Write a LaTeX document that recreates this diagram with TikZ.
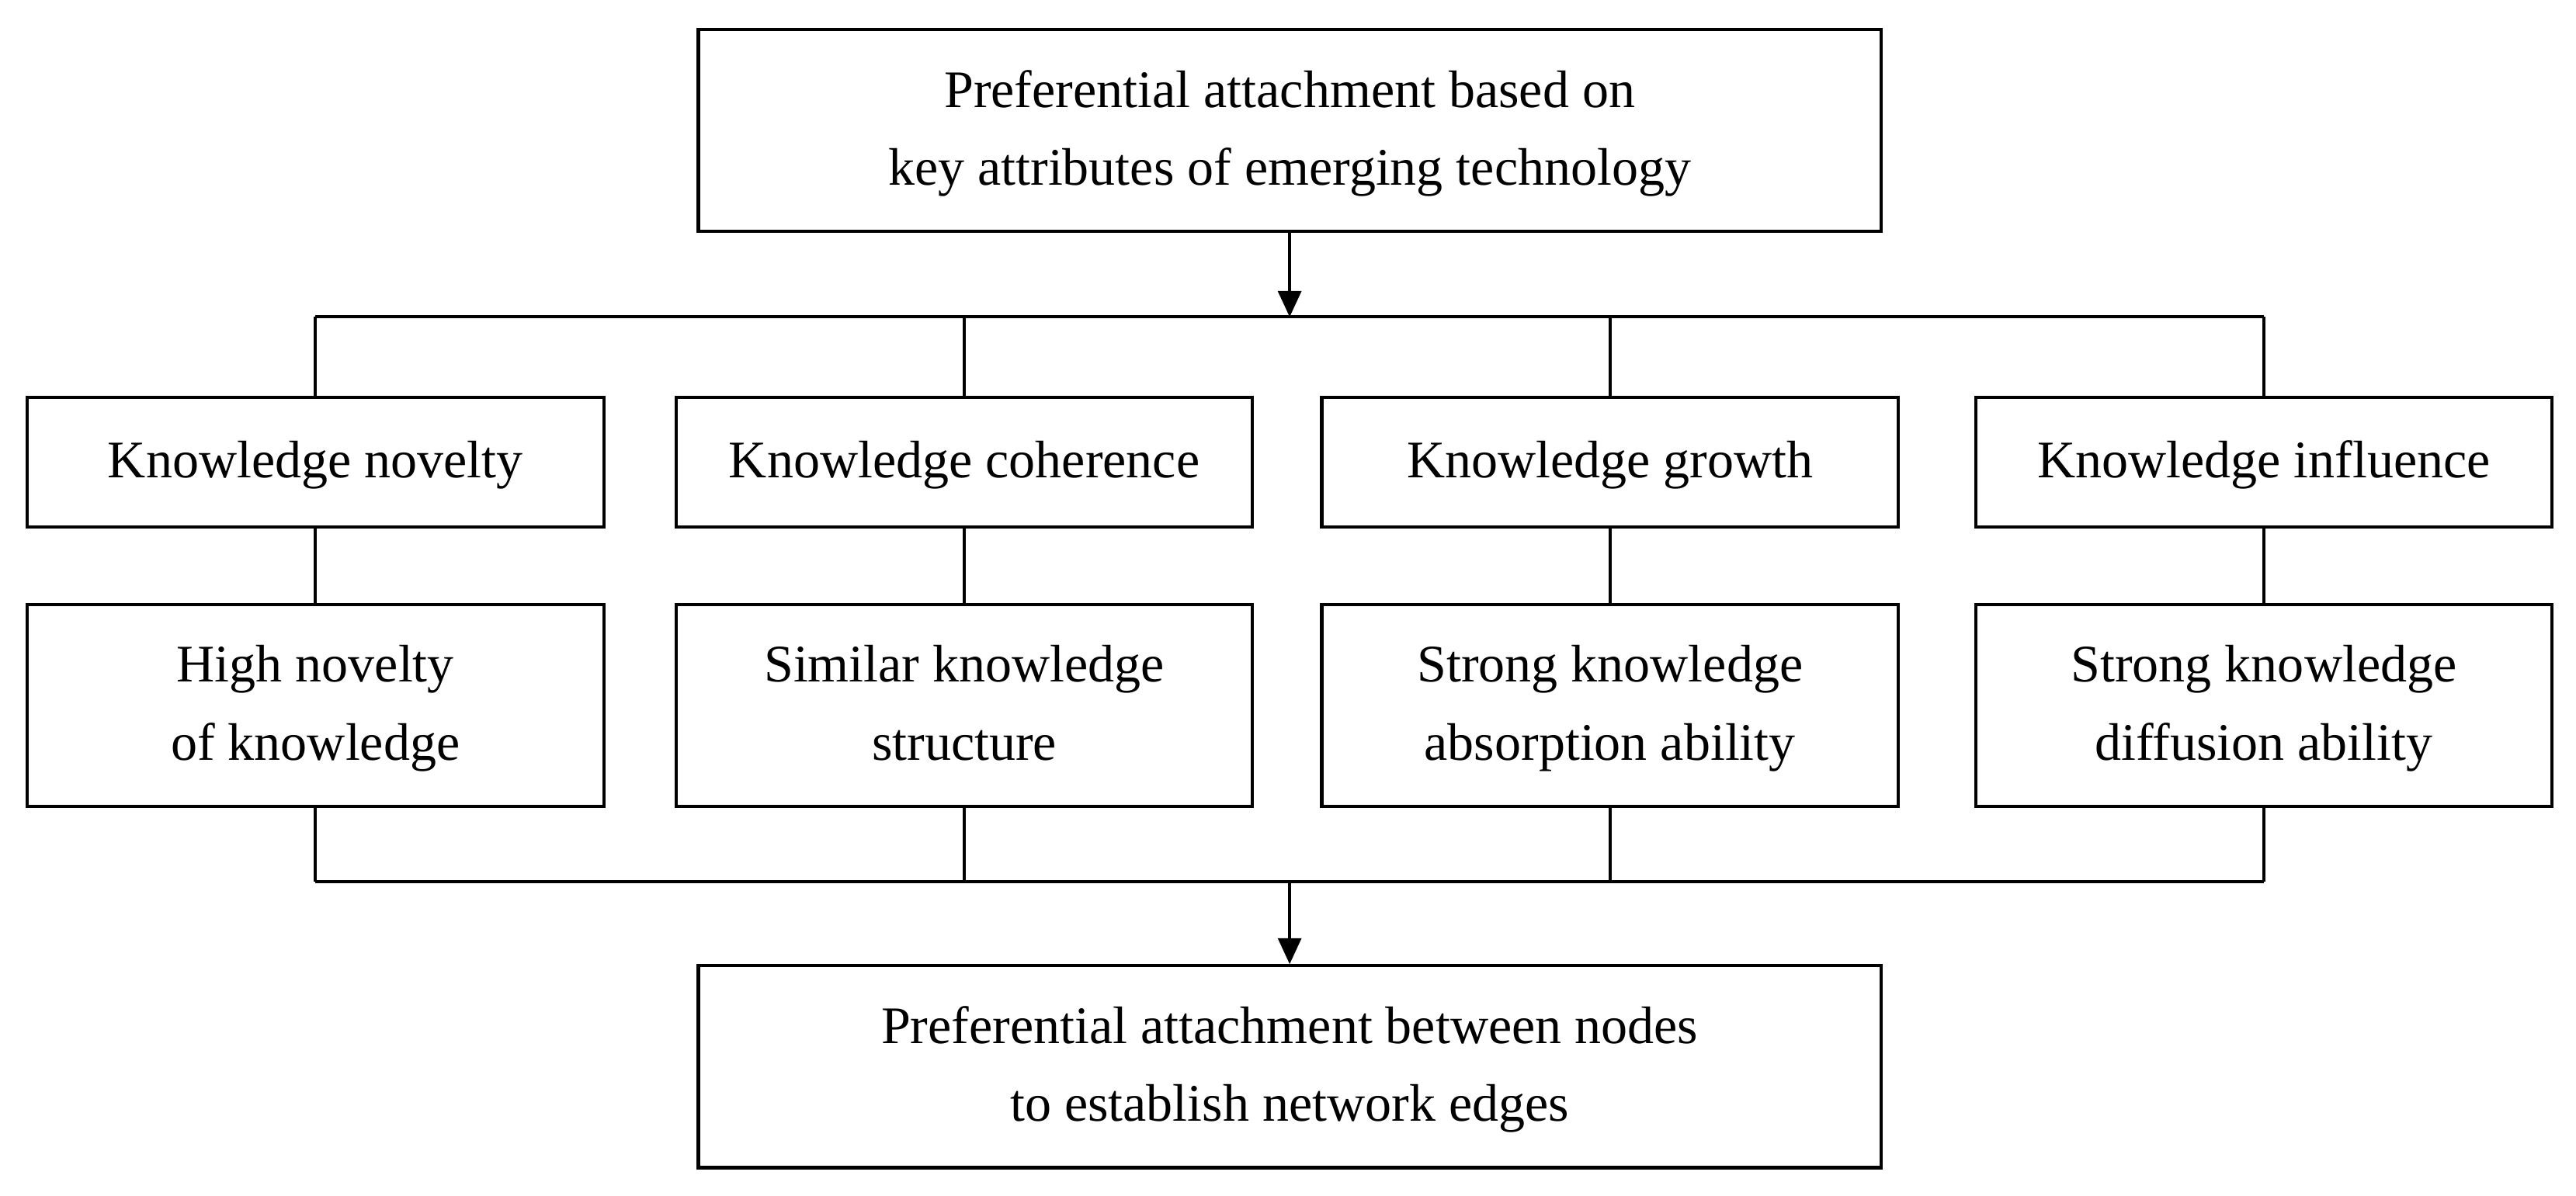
\documentclass[tikz,border=0pt]{standalone}
\usepackage{fontspec}
\setmainfont{Liberation Serif}
\usetikzlibrary{arrows.meta}
\begin{document}
\begin{tikzpicture}[x=0.02cm,y=-0.02cm,
  box/.style={draw,line width=1.1pt,align=center,font=\fontsize{18.3}{27}\selectfont,inner sep=0pt},
  ln/.style={line width=1.1pt},
  arr/.style={ln,-{Triangle[length=9pt,width=8pt]}}]
\useasboundingbox (0,0) rectangle (1568,728);
\node[box,minimum width=14.4cm,minimum height=2.46cm] (top) at (785,79.5) {\strut Preferential attachment based on\\\strut key attributes of emerging technology};
\node[box,minimum width=14.4cm,minimum height=2.46cm] (bot) at (785,649.5) {\strut Preferential attachment between nodes\\\strut to establish network edges};
\foreach \n/\x/\a/\b/\c in {1/192/Knowledge novelty/High novelty/of knowledge,
  2/587/Knowledge coherence/Similar knowledge/structure,
  3/980/Knowledge growth/Strong knowledge/absorption ability,
  4/1378/Knowledge influence/Strong knowledge/diffusion ability}{
  \node[box,minimum width=7.02cm,minimum height=1.58cm] (a\n) at (\x,281.5) {\strut\a};
  \node[box,minimum width=7.02cm,minimum height=2.46cm] (b\n) at (\x,429.5) {\strut\b\\\strut\c};
  \draw[ln] (a\n.south) -- (b\n.north);
  \coordinate (u\n) at (\x,193);
  \coordinate (d\n) at (\x,537);
  \draw[ln] (u\n) -- (a\n.north);
  \draw[ln] (b\n.south) -- (d\n);
}
\draw[ln] (u1) -- (u4);
\draw[ln] (d1) -- (d4);
\coordinate (um) at (785,193);
\coordinate (dm) at (785,537);
\draw[arr] (top.south) -- (um);
\draw[arr] (dm) -- (bot.north);
\end{tikzpicture}
\end{document}
